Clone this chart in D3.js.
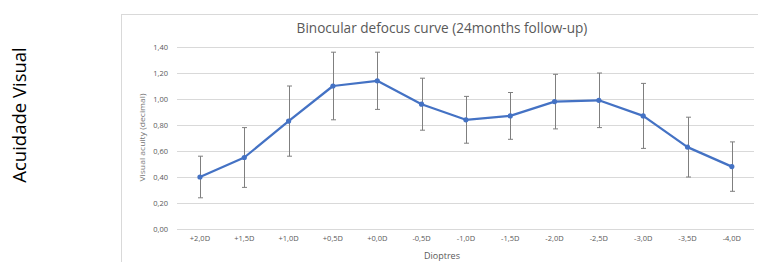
<!DOCTYPE html>
<html><head><meta charset="utf-8">
<script src="https://cdn.jsdelivr.net/npm/d3@7/dist/d3.min.js"></script>
<style>body{margin:0;background:#fff}svg{display:block}</style>
</head><body>
<svg id="c" width="758" height="262"></svg>
<script>
const categories = ["+2,0D","+1,5D","+1,0D","+0,5D","+0,0D","-0,5D","-1,0D","-1,5D","-2,0D","-2,5D","-3,0D","-3,5D","-4,0D"];
const acuity = [0.40,0.55,0.83,1.10,1.14,0.96,0.84,0.87,0.98,0.99,0.87,0.63,0.48];
const errors = [0.16,0.23,0.27,0.26,0.22,0.20,0.18,0.18,0.21,0.21,0.25,0.23,0.19];
const yTicks = [0,0.2,0.4,0.6,0.8,1.0,1.2,1.4];
const title = "Binocular defocus curve (24months follow-up)";
const yTitle = "Visual acuity (decimal)";
const xTitle = "Dioptres";
const sideLabel = "Acuidade Visual";

const svg = d3.select("#c");
const font = "'Open Sans', sans-serif";
const grey = "#595959";

// chart frame
svg.append("rect").attr("x",121.5).attr("y",14.5).attr("width",660).attr("height",260)
  .attr("fill","#fff").attr("stroke","#d9d9d9");

const x = d3.scaleBand().domain(categories).range([177.8,754]);
const y = d3.scaleLinear().domain([0,1.4]).range([229,47]);

// grid
svg.append("g").selectAll("line").data(yTicks).join("line")
  .attr("x1",177).attr("x2",754)
  .attr("y1",d=>Math.round(y(d))+0.5).attr("y2",d=>Math.round(y(d))+0.5)
  .attr("stroke","#d9d9d9").attr("stroke-width",1);

const fmt = d=>d3.format(".2f")(d).replace(".",",");
// y axis labels
const ya = svg.append("g").attr("transform","translate(168,0)")
  .call(d3.axisLeft(y).tickValues(yTicks).tickFormat(fmt).tickSize(0).tickPadding(0));
ya.select(".domain").remove();
ya.selectAll("text").attr("fill",grey).style("font-family",font).style("font-size","7.5px");

// x axis labels
const xa = svg.append("g").attr("transform","translate(0,236)")
  .call(d3.axisBottom(x).tickSize(0).tickPadding(0));
xa.select(".domain").remove();
xa.selectAll("text").attr("fill",grey).style("font-family",font).style("font-size","7.5px");

// error bars
const cx = d=>x(d)+x.bandwidth()/2;
const eb = svg.append("g").attr("stroke","#7f7f7f").attr("stroke-width",1);
categories.forEach((c,i)=>{
  const xc = Math.round(cx(c))+0.5;
  const top = y(acuity[i]+errors[i]), bot = y(acuity[i]-errors[i]);
  eb.append("line").attr("x1",xc).attr("x2",xc).attr("y1",top).attr("y2",bot);
  eb.append("line").attr("x1",xc-2.5).attr("x2",xc+2.5).attr("y1",top).attr("y2",top);
  eb.append("line").attr("x1",xc-2.5).attr("x2",xc+2.5).attr("y1",bot).attr("y2",bot);
});

// line
const pts = categories.map((c,i)=>[cx(c),y(acuity[i])]);
svg.append("path").attr("d",d3.line()(pts)).attr("fill","none")
  .attr("stroke","#4472c4").attr("stroke-width",2.25).attr("stroke-linejoin","round");
svg.append("g").selectAll("circle").data(pts).join("circle")
  .attr("cx",d=>d[0]).attr("cy",d=>d[1]).attr("r",2.6).attr("fill","#4472c4");

// titles
svg.append("text").attr("x",442).attr("y",33).attr("text-anchor","middle")
  .attr("fill",grey).style("font-family",font).style("font-size","13.6px").text(title);
svg.append("text").attr("transform","translate(145,137.5) rotate(-90)").attr("text-anchor","middle")
  .attr("fill","#757575").style("font-family",font).style("font-size","8px")
  .attr("textLength",88).attr("lengthAdjust","spacingAndGlyphs").text(yTitle);
svg.append("text").attr("x",442).attr("y",258.5).attr("text-anchor","middle")
  .attr("fill",grey).style("font-family",font).style("font-size","9px").text(xTitle);
svg.append("text").attr("transform","translate(26,115) rotate(-90)").attr("text-anchor","middle")
  .attr("fill","#000").style("font-family",font).style("font-size","18.5px").text(sideLabel);
</script>
</body></html>
